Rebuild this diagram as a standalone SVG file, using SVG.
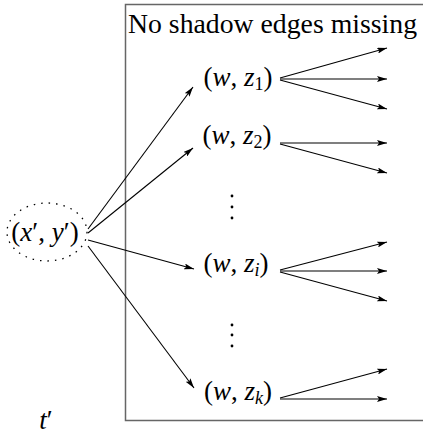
<svg xmlns="http://www.w3.org/2000/svg" width="423" height="434" viewBox="0 0 423 434">
<style>
text{font-family:'Liberation Serif','Times New Roman',serif;font-size:27px;fill:#000}
.m{font-style:italic}
.sub{font-size:18px}
.edge{stroke:#000;stroke-width:1.1;fill:none;marker-end:url(#ah)}
.dot{fill:#000}
</style>
<defs>
<marker id="ah" viewBox="0 0 10 6" refX="10" refY="3" markerWidth="10" markerHeight="6" markerUnits="userSpaceOnUse" orient="auto">
<path d="M0,0 L10,3 L0,6 L2,3 Z" fill="#000"/>
</marker>
</defs>
<rect x="0" y="0" width="423" height="434" fill="#fff"/>
<g id="box">
<path d="M423,4.5 H125.5 V420.5 H423" fill="none" stroke="#666" stroke-width="1.5"/>
<text x="128" y="33" font-size="26" textLength="289" lengthAdjust="spacingAndGlyphs">No shadow edges missing</text>
</g>
<g id="source">
<ellipse cx="47" cy="232" rx="40" ry="29" fill="none" stroke="#000" stroke-width="1.3" stroke-dasharray="1.5 6"/>
<text x="45" y="241" text-anchor="middle">(<tspan class="m">x</tspan>′, <tspan class="m">y</tspan>′)</text>
</g>
<g id="label-t">
<text x="46" y="429" text-anchor="middle"><tspan class="m">t</tspan>′</text>
</g>
<g id="n1">
<text x="238" y="86" text-anchor="middle">(<tspan class="m">w</tspan>, <tspan class="m">z</tspan><tspan class="sub" dy="4">1</tspan><tspan dy="-4">)</tspan></text>
</g>
<g id="n2">
<text x="237" y="144" text-anchor="middle">(<tspan class="m">w</tspan>, <tspan class="m">z</tspan><tspan class="sub" dy="4">2</tspan><tspan dy="-4">)</tspan></text>
</g>
<g id="n3">
<text x="236" y="272" text-anchor="middle">(<tspan class="m">w</tspan>, <tspan class="m">z</tspan><tspan class="sub m" dy="4">i</tspan><tspan dy="-4">)</tspan></text>
</g>
<g id="n4">
<text x="238" y="400" text-anchor="middle">(<tspan class="m">w</tspan>, <tspan class="m">z</tspan><tspan class="sub m" dy="4">k</tspan><tspan dy="-4">)</tspan></text>
</g>
<g id="vdots1">
<circle class="dot" cx="232" cy="196" r="1.4"/>
<circle class="dot" cx="232" cy="207" r="1.4"/>
<circle class="dot" cx="232" cy="218" r="1.4"/>
</g>
<g id="vdots2">
<circle class="dot" cx="232" cy="325" r="1.4"/>
<circle class="dot" cx="232" cy="335" r="1.4"/>
<circle class="dot" cx="232" cy="346" r="1.4"/>
</g>
<g id="connectors">
<line class="edge" x1="88" y1="229" x2="193" y2="87"/>
<line class="edge" x1="88" y1="233" x2="193" y2="148"/>
<line class="edge" x1="88" y1="240" x2="194" y2="269"/>
<line class="edge" x1="88" y1="246" x2="194" y2="388"/>
<line class="edge" x1="280" y1="78" x2="387" y2="48"/>
<line class="edge" x1="280" y1="79" x2="387" y2="79"/>
<line class="edge" x1="280" y1="80" x2="387" y2="109"/>
<line class="edge" x1="280" y1="143" x2="387" y2="143"/>
<line class="edge" x1="280" y1="144" x2="387" y2="173"/>
<line class="edge" x1="280" y1="270" x2="387" y2="242"/>
<line class="edge" x1="280" y1="271" x2="387" y2="271"/>
<line class="edge" x1="280" y1="272" x2="387" y2="301"/>
<line class="edge" x1="280" y1="398" x2="387" y2="369"/>
<line class="edge" x1="280" y1="399" x2="387" y2="399"/>
</g>
</svg>
